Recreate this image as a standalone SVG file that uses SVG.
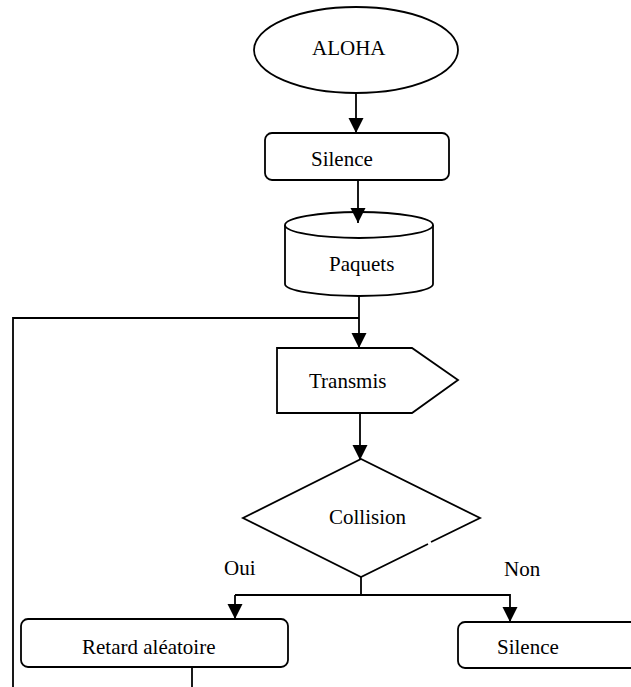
<svg xmlns="http://www.w3.org/2000/svg" width="631" height="687" viewBox="0 0 631 687">
  <style>
    .shape { fill: #ffffff; stroke: #000000; stroke-width: 1.8; }
    .line { fill: none; stroke: #000000; stroke-width: 1.8; }
    .label { font-family: "Liberation Serif", "Times New Roman", serif; font-size: 21px; fill: #000000; }
  </style>
  <defs>
    <marker id="arrow" markerUnits="userSpaceOnUse" markerWidth="17" markerHeight="17" refX="15" refY="7.5" orient="auto">
      <path d="M0,0 L15,7.5 L0,15 Z" fill="#000000"/>
    </marker>
  </defs>
  <rect width="631" height="687" fill="#ffffff"/>

  <!-- start -->
  <g id="aloha">
    <ellipse class="shape" cx="356" cy="50" rx="102" ry="43"/>
    <text class="label" x="312" y="55">ALOHA</text>
  </g>

  <g id="silence-top">
    <rect class="shape" x="265" y="133" width="184" height="47" rx="7"/>
    <text class="label" x="311" y="166">Silence</text>
  </g>

  <!-- stored data -->
  <g id="paquets">
    <path class="shape" d="M285,225 L285,284 A74,12 0 0,0 433,284 L433,225"/>
    <ellipse class="shape" cx="359" cy="225" rx="74" ry="13"/>
    <text class="label" x="329" y="271">Paquets</text>
  </g>

  <g id="transmis">
    <polygon class="shape" points="277,348 412,348 458,380 412,413 277,413"/>
    <text class="label" x="309" y="388">Transmis</text>
  </g>

  <!-- decision -->
  <g id="collision">
    <polyline class="line" points="431,542 480,518 361,459 243,518 361,577 428,544"/>
    <text class="label" x="329" y="524">Collision</text>
  </g>

  <g id="oui">
    <text class="label" x="224" y="575">Oui</text>
  </g>
  <g id="non">
    <text class="label" x="504" y="576">Non</text>
  </g>

  <g id="retard">
    <rect class="shape" x="21" y="619" width="267" height="48" rx="7"/>
    <text class="label" x="82" y="654">Retard aléatoire</text>
  </g>

  <g id="silence-bottom">
    <rect class="shape" x="458" y="622" width="200" height="46" rx="7"/>
    <text class="label" x="497" y="654">Silence</text>
  </g>

  <!-- connectors, drawn last so arrowheads sit on top of the shapes -->
  <g id="connectors">
    <line class="line" x1="356" y1="93" x2="356" y2="133" marker-end="url(#arrow)"/>
    <line class="line" x1="358" y1="180" x2="358" y2="223" marker-end="url(#arrow)"/>
    <line class="line" x1="359" y1="296" x2="359" y2="348" marker-end="url(#arrow)"/>
    <polyline class="line" points="13,687 13,318 359,318"/>
    <line class="line" x1="360" y1="413" x2="360" y2="460" marker-end="url(#arrow)"/>
    <line class="line" x1="361" y1="577" x2="361" y2="595"/>
    <polyline class="line" points="235,595 510,595 510,622" marker-end="url(#arrow)"/>
    <line class="line" x1="235" y1="595" x2="235" y2="619" marker-end="url(#arrow)"/>
    <line class="line" x1="192" y1="667" x2="192" y2="687"/>
  </g>
</svg>
